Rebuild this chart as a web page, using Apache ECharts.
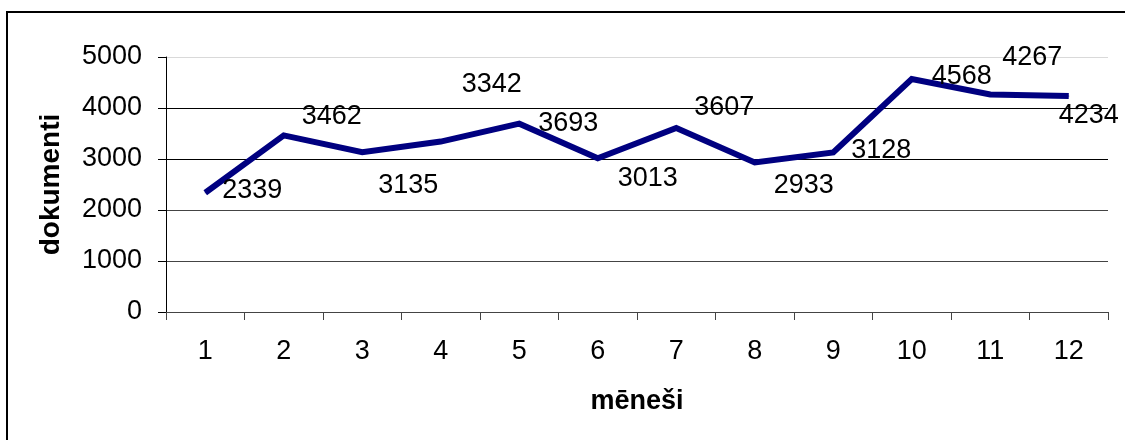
<!DOCTYPE html>
<html>
<head>
<meta charset="utf-8">
<title>dokumenti pa mēnešiem</title>
<script src="https://cdn.jsdelivr.net/npm/echarts@6/dist/echarts.min.js"></script>
<style>
  html, body { margin: 0; padding: 0; background: #fff; }
  #main { width: 1125px; height: 440px; }
</style>
</head>
<body>
<div id="main"></div>
<script>
// mēneši un dokumentu skaits
var months = ['1', '2', '3', '4', '5', '6', '7', '8', '9', '10', '11', '12']
var docs = [2339, 3462, 3135, 3342, 3693, 3013, 3607, 2933, 3128, 4568, 4267, 4234]
var yTicks = [0, 1000, 2000, 3000, 4000, 5000]

// kur katrs skaitlis stāv attiecībā pret punktu (kā oriģinālā)
var labelShift = [
    [47, -2], [48, -19], [46, 33], [51, -57], [49, 0], [50, 20],
    [48, -20], [49, 23], [48, -2], [50, -2], [42, -37], [20, 19]
]

var font = 'Liberation Sans, Arial, sans-serif'

var seriesData = []
for (var i = 0; i < docs.length; i++) {
    seriesData.push({
        value: docs[i],
        label: { offset: labelShift[i] }
    })
}

var chart = echarts.init(document.getElementById('main'))

var option = {
    animation: false,
    backgroundColor: '#fff',
    grid: {
        left: 166,
        right: 17,
        top: 57,
        bottom: 128
    },
    graphic: [{
        type: 'rect',
        shape: { x: 7, y: 12, width: 1300, height: 600 },
        style: { fill: 'none', stroke: '#000', lineWidth: 2 },
        silent: true,
        z: -1
    }],
    xAxis: {
        type: 'category',
        data: months,
        boundaryGap: true,
        name: 'mēneši',
        nameLocation: 'middle',
        nameGap: 76,
        nameTextStyle: { fontFamily: font, fontSize: 27, fontWeight: 'bold', color: '#000' },
        axisLine: { lineStyle: { color: '#444', width: 1 } },
        axisTick: { show: true, alignWithLabel: false, length: 8, lineStyle: { color: '#444' } },
        axisLabel: { fontFamily: font, fontSize: 27, color: '#000', margin: 26 },
        splitLine: { show: false }
    },
    yAxis: {
        type: 'value',
        min: yTicks[0],
        max: yTicks[yTicks.length - 1],
        interval: 1000,
        name: 'dokumenti',
        nameLocation: 'middle',
        nameGap: 101,
        nameRotate: 90,
        nameTextStyle: { fontFamily: font, fontSize: 28, fontWeight: 'bold', color: '#000' },
        axisLine: { show: true, lineStyle: { color: '#000', width: 1 } },
        axisTick: { show: true, length: 8, lineStyle: { color: '#000' } },
        axisLabel: {
            fontFamily: font,
            fontSize: 27,
            color: '#000',
            margin: 24,
            formatter: function(v) { return String(v) }
        },
        splitLine: {
            show: true,
            lineStyle: {
                color: ['#000', '#444', '#444', '#000', '#000', '#d9d9d9'],
                width: 1
            }
        }
    },
    series: [{
        type: 'line',
        data: seriesData,
        symbol: 'circle',
        symbolSize: 1,
        itemStyle: { color: '#000080' },
        lineStyle: { color: '#000080', width: 6, cap: 'butt', join: 'miter' },
        label: {
            show: true,
            position: 'inside',
            fontFamily: font,
            fontSize: 27,
            color: '#000'
        }
    }]
}

chart.setOption(option)
</script>
</body>
</html>
